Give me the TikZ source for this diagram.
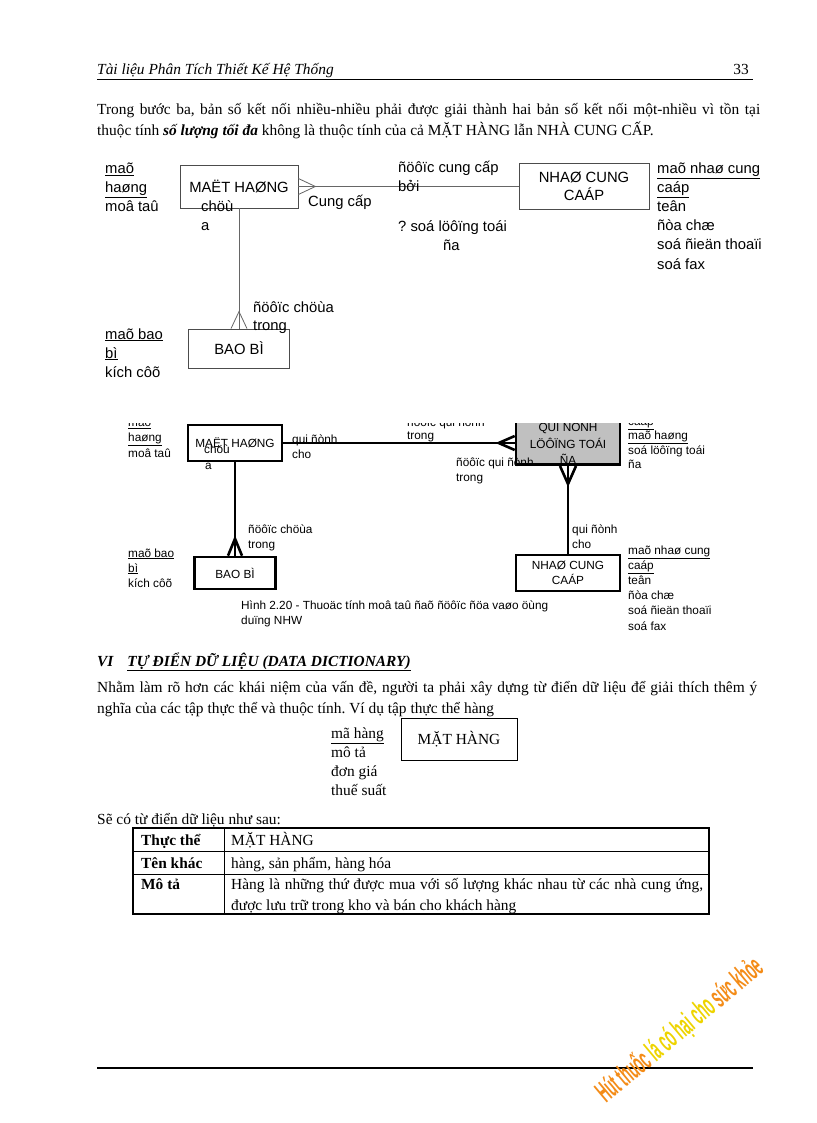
\documentclass[tikz,border=0pt]{standalone}
\usepackage{fontspec}
\setmainfont{Liberation Serif}
\newfontfamily\erfont{Liberation Sans}
\usetikzlibrary{positioning}
\definecolor{wmorange}{RGB}{244,140,24}
\definecolor{wmyellow}{RGB}{238,212,0}
\definecolor{quigray}{RGB}{192,192,192}
\frenchspacing

\begin{document}
\begin{tikzpicture}[x=1pt, y=-1pt,
	txt/.style={anchor=base west, inner sep=0pt, font=\fontsize{15.4}{21}\selectfont},
	era/.style={anchor=base west, inner sep=0pt, font=\erfont\fontsize{14.8}{19}\selectfont},
	erb/.style={anchor=base west, inner sep=0pt, font=\erfont\fontsize{11.8}{15}\selectfont},
	boxa/.style={draw=black!70, line width=0.8pt, inner sep=0pt, align=center, font=\erfont\fontsize{14.8}{18}\selectfont},
	boxb/.style={draw=black, line width=2.6pt, inner sep=0pt, align=center, font=\erfont\fontsize{11.8}{15}\selectfont},
	lnka/.style={draw=black!60, line width=0.8pt},
	lnkb/.style={draw=black, line width=2.6pt, line join=miter}]
	% Seite
	\fill[white] (0,0) rectangle (816,1123);
	\useasboundingbox (0,0) rectangle (816,1123);
	% Kopfzeile
	\node[txt] (hdr) at (97,75) {\itshape Tài liệu Phân Tích Thiết Kế Hệ Thống};
	\node[txt, anchor=base east] (pg) at (749,75) {33};
	\draw[line width=1.6pt] (97,79.5) -- (753,79.5);
	\node[txt] (p1) at (97,115) {\makebox[663pt][s]{Trong bước ba, bản số kết nối nhiều-nhiều phải được giải thành hai bản số kết nối một-nhiều vì tồn tại}};
	\node[txt] (p2) at (97,136) {thuộc tính \textbf{\textit{số lượng tối đa}} không là thuộc tính của cả MẶT HÀNG lẫn NHÀ CUNG CẤP.};
	% erstes Diagramm
	\node[boxa, minimum width=118pt, minimum height=43pt] (mh1) at (239,186.5) {MAËT HAØNG};
	\node[boxa, minimum width=130pt, minimum height=46pt] (ncc1) at (584,186.5) {NHAØ CUNG\\CAÁP};
	\node[boxa, minimum width=101pt, minimum height=39pt] (bb1) at (239,348.5) {BAO BÌ};
	\draw[lnka] (mh1) -- (ncc1);
	\draw[lnka] (mh1) -- (bb1);
	\draw[lnka] ([yshift=8pt]mh1.east) -- ([xshift=17pt]mh1.east) -- ([yshift=-8pt]mh1.east);
	\draw[lnka] ([xshift=-8pt]bb1.north) -- ([yshift=17pt]bb1.north) -- ([xshift=8pt]bb1.north);
	\foreach \t [count=\i from 0] in {\underline{maõ}, \underline{haøng}, moâ taû}
		\node[era] (ka\i) at (105,174+19*\i) {\t};
	\foreach \t [count=\i from 0] in {\underline{maõ nhaø cung}, \underline{caáp}, teân, ñòa chæ, soá ñieän thoaïi, soá fax}
		\node[era] (kn\i) at (657,174+19*\i) {\t};
	\foreach \t [count=\i from 0] in {\underline{maõ bao}, \underline{bì}, kích côõ}
		\node[era] (kb\i) at (105,339+19*\i) {\t};
	\node[era] (r1) at (201,212) {chöù};
	\node[era] (r2) at (201,231) {a};
	\node[era] (r3) at (308,207) {Cung cấp};
	\node[era] (r4) at (398,173) {ñöôïc cung cấp};
	\node[era] (r5) at (398,192) {bởi};
	\node[era] (r6) at (398,232) {? soá löôïng toái};
	\node[era] (r7) at (443,251) {ña};
	\node[era] (r8) at (253,312) {ñöôïc chöùa};
	\node[era] (r9) at (253,330) {trong};
	% zweites Diagramm (oben abgeschnitten)
	\begin{scope}
		\clip (0,423) rectangle (816,645);
		\node[boxb, minimum width=94pt, minimum height=36pt] (mh2) at (235,443) {MAËT HAØNG};
		\node[boxb, fill=quigray, minimum width=104pt, minimum height=36pt] (qui) at (568,443) {QUI ÑÒNH\\[1.5pt]LÖÔÏNG TOÁI\\[1.5pt]ÑA};
		\node[boxb, minimum width=104pt, minimum height=36pt] (ncc2) at (568,573) {NHAØ CUNG\\CAÁP};
		\node[boxb, minimum width=81pt, minimum height=32pt] (bb2) at (235,573) {BAO BÌ};
		\draw[lnkb] (mh2) -- (qui);
		\draw[lnkb] (qui) -- (ncc2);
		\draw[lnkb] (mh2) -- (bb2);
		\draw[lnkb] ([yshift=7pt]qui.west) -- ([xshift=-16pt]qui.west) -- ([yshift=-7pt]qui.west);
		\draw[lnkb] ([xshift=-8pt]qui.south) -- ([yshift=-18pt]qui.south) -- ([xshift=8pt]qui.south);
		\draw[lnkb] ([xshift=-7pt]bb2.north) -- ([yshift=17pt]bb2.north) -- ([xshift=7pt]bb2.north);
		\foreach \t [count=\i from 0] in {\underline{maõ}, \underline{haøng}, moâ taû}
			\node[erb] (la\i) at (128,426.5+15.25*\i) {\t};
		\foreach \t [count=\i from 0] in {\underline{maõ nhaø cung}, \underline{caáp}, \underline{maõ haøng}, soá löôïng toái, ña}
			\node[erb] (lq\i) at (628,410.5+14.5*\i) {\t};
		\foreach \t [count=\i from 0] in {\underline{maõ nhaø cung}, \underline{caáp}, teân, ñòa chæ, soá ñieän thoaïi, soá fax}
			\node[erb] (ln\i) at (628,554+15.2*\i) {\t};
		\foreach \t [count=\i from 0] in {\underline{maõ bao}, \underline{bì}, kích côõ}
			\node[erb] (lb\i) at (128,557+15*\i) {\t};
		\node[erb] (s1) at (204,453) {chöù};
		\node[erb] (s2) at (205,469) {a};
		\node[erb] (s3) at (292,443) {qui ñònh};
		\node[erb] (s4) at (292,458) {cho};
		\node[erb] (s5) at (407,426.5) {ñöôïc qui ñònh};
		\node[erb] (s6) at (407,439) {trong};
		\node[erb] (s7) at (456,466) {ñöôïc qui ñònh};
		\node[erb] (s8) at (456,481) {trong};
		\node[erb] (s9) at (572,533) {qui ñònh};
		\node[erb] (s10) at (572,548) {cho};
		\node[erb] (s11) at (248,533) {ñöôïc chöùa};
		\node[erb] (s12) at (248,548) {trong};
		\node[erb] (cap1) at (241,609) {Hình 2.20 - Thuoäc tính moâ taû ñaõ ñöôïc ñöa vaøo öùng};
		\node[erb] (cap2) at (241,624) {duïng NHW};
	\end{scope}
	% Abschnitt VI
	\node[txt] (sec) at (97,666) {\bfseries\itshape VI\hspace{14pt}\underline{TỰ ĐIỂN DỮ LIỆU (DATA DICTIONARY)}};
	\node[txt] (q1) at (97,692) {\makebox[660pt][s]{Nhằm làm rõ hơn các khái niệm của vấn đề, người ta phải xây dựng từ điển dữ liệu để giải thích thêm ý}};
	\node[txt] (q2) at (97,713) {nghĩa của các tập thực thể và thuộc tính. Ví dụ tập thực thể hàng};
	\node[draw, line width=0.8pt, inner sep=0pt, minimum width=116pt, minimum height=42pt, font=\fontsize{15.4}{21}\selectfont] (mh3) at (459,739) {MẶT HÀNG};
	\foreach \t [count=\i from 0] in {\underline{mã hàng}, mô tả, đơn giá, thuế suất}
		\node[txt] (m\i) at (331,738+19*\i) {\t};
	\node[txt] (q3) at (97,824) {Sẽ có từ điển dữ liệu như sau:};
	% Tabelle
	\draw[line width=1.3pt] (133,828) rectangle (709,914);
	\draw[line width=1pt] (224,828) -- (224,914);
	\draw[line width=1pt] (133,851) -- (709,851);
	\draw[line width=1pt] (133,874) -- (709,874);
	\node[txt] (t1) at (141,845) {\bfseries Thực thể};
	\node[txt] (t2) at (141,868) {\bfseries Tên khác};
	\node[txt] (t3) at (141,889) {\bfseries Mô tả};
	\node[txt] (v1) at (231,845) {MẶT HÀNG};
	\node[txt] (v2) at (231,868) {hàng, sản phẩm, hàng hóa};
	\node[txt] (v3) at (231,889) {\makebox[472pt][s]{Hàng là những thứ được mua với số lượng khác nhau từ các nhà cung ứng,}};
	\node[txt] (v4) at (231,910) {được lưu trữ trong kho và bán cho khách hàng};
	% Fusszeile
	\draw[line width=1.6pt] (97,1068) -- (753,1068);
	\begin{scope}[shift={(606,1104)}, rotate=40, xscale=0.44]
		\node[anchor=base west, inner sep=0pt, transform shape, font=\erfont\bfseries\fontsize{30}{30}\selectfont] (wm) at (0,0)
			{\textcolor{wmorange}{Hút thuốc} \textcolor{wmyellow}{lá có hại cho} \textcolor{wmorange}{sức khỏe}};
	\end{scope}
\end{tikzpicture}
\end{document}
